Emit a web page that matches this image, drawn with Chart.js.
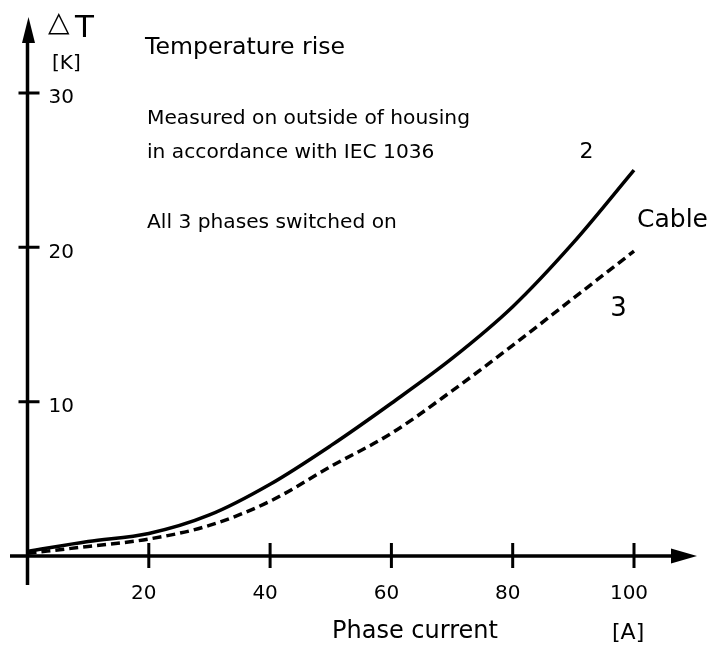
<!DOCTYPE html>
<html>
<head>
<meta charset="utf-8">
<script src="https://cdn.jsdelivr.net/npm/chart.js@4/dist/chart.umd.min.js"></script>
<style>
  html, body { margin: 0; padding: 0; background: #fff; }
  #wrap { position: relative; width: 710px; height: 652px; }
</style>
</head>
<body>
<div id="wrap"><canvas id="rise-chart"></canvas></div>
<script>
// phase current [A] at which the curves were read
var current = [0, 10, 20, 30, 40, 50, 60, 70, 80, 90, 100];
// temperature rise [K]: curve 2 (solid) and curve 3 (dashed)
var rise2 = [0.3, 0.94, 1.46, 2.66, 4.65, 7.15, 9.9, 12.8, 16.15, 20.3, 25.0];
var rise3 = [0.17, 0.62, 1.1, 1.98, 3.55, 5.8, 7.95, 10.7, 13.65, 16.7, 19.75];
var xTicks = [20, 40, 60, 80, 100];
var yTicks = [10, 20, 30];

var FONT = '"DejaVu Sans"';
Chart.defaults.font.family = FONT;
Chart.defaults.color = '#000';

function pts(ys) {
    var out = [];
    for (var i = 0; i < current.length; i++) out.push({x: current[i], y: ys[i]});
    return out;
}

// axis lines with arrows, ticks crossing the axes, and the free texts
var axesAndNotes = {
    id: 'axesAndNotes',
    afterDraw: function (chart) {
        var ctx = chart.ctx, a = chart.chartArea;
        var xs = chart.scales.x, ys = chart.scales.y;
        var x0 = a.left, y0 = a.bottom;
        ctx.save();
        ctx.strokeStyle = '#000';
        ctx.fillStyle = '#000';
        ctx.lineWidth = 3.5;
        ctx.beginPath();
        ctx.moveTo(x0, y0 + 29); ctx.lineTo(x0, 40);
        ctx.moveTo(10, y0); ctx.lineTo(674, y0);
        ctx.stroke();
        ctx.beginPath();
        ctx.moveTo(x0 + 1, 17); ctx.lineTo(x0 - 5.5, 43); ctx.lineTo(x0 + 7.5, 43); ctx.closePath();
        ctx.moveTo(697, y0); ctx.lineTo(671, y0 - 7.5); ctx.lineTo(671, y0 + 7.5); ctx.closePath();
        ctx.fill();

        ctx.lineWidth = 3;
        ctx.beginPath();
        xs.ticks.forEach(function (t) {
            var p = xs.getPixelForValue(t.value);
            ctx.moveTo(p, y0 - 13); ctx.lineTo(p, y0 + 12);
        });
        ys.ticks.forEach(function (t) {
            var p = ys.getPixelForValue(t.value);
            ctx.moveTo(x0 - 9, p); ctx.lineTo(x0 + 12, p);
        });
        ctx.stroke();

        function txt(s, x, y, size, align) {
            ctx.font = size + 'px ' + FONT;
            ctx.textAlign = align || 'left';
            ctx.textBaseline = 'alphabetic';
            ctx.fillText(s, x, y);
        }
        txt('\u25B3', 48, 31, 28);
        txt('T', 75, 37, 31);
        txt('[K]', 52, 69, 20);
        txt('Temperature rise', 145, 54, 23.6);
        txt('Measured on outside of housing', 147, 124, 20.2);
        txt('in accordance with IEC 1036', 147, 157.7, 20.2);
        txt('All 3 phases switched on', 147, 228.3, 20.2);
        txt('2', 586.5, 158, 22, 'center');
        txt('Cable', 637, 227, 25);
        txt('3', 618.5, 316, 26, 'center');
        txt('Phase current', 332, 637.7, 24);
        txt('[A]', 612, 638.5, 22);
        ctx.restore();
    }
};

new Chart(document.getElementById('rise-chart'), {
    type: 'line',
    data: {
        datasets: [
            {
                label: '2',
                data: pts(rise2),
                borderColor: '#000',
                borderWidth: 3.5,
                pointRadius: 0,
                cubicInterpolationMode: 'monotone',
                clip: false
            },
            {
                label: '3',
                data: pts(rise3),
                borderColor: '#000',
                borderWidth: 3.5,
                borderDash: [9, 5],
                pointRadius: 0,
                cubicInterpolationMode: 'monotone',
                clip: false
            }
        ]
    },
    options: {
        responsive: true,
        maintainAspectRatio: false,
        animation: false,
        layout: { padding: { left: 0, top: 93, right: 76, bottom: 0 } },
        plugins: {
            legend: { display: false },
            tooltip: { enabled: false },
            title: { display: false }
        },
        scales: {
            x: {
                type: 'linear',
                min: 0,
                max: 100,
                grid: { display: false, drawTicks: false },
                border: { display: false },
                afterBuildTicks: function (s) { s.ticks = xTicks.map(function (v) { return {value: v}; }); },
                afterFit: function (s) { s.height = 96; },
                ticks: {
                    padding: 26,
                    labelOffset: -5,
                    maxRotation: 0,
                    font: { size: 20 },
                    color: '#000',
                    callback: function (v) { return String(v); }
                }
            },
            y: {
                type: 'linear',
                min: 0,
                max: 30,
                grid: { display: false, drawTicks: false },
                border: { display: false },
                afterBuildTicks: function (s) { s.ticks = yTicks.map(function (v) { return {value: v}; }); },
                afterFit: function (s) { s.width = 27.5; },
                ticks: {
                    mirror: true,
                    padding: 21,
                    labelOffset: 5,
                    font: { size: 20 },
                    color: '#000',
                    callback: function (v) { return String(v); }
                }
            }
        }
    },
    plugins: [axesAndNotes]
});
</script>
</body>
</html>
